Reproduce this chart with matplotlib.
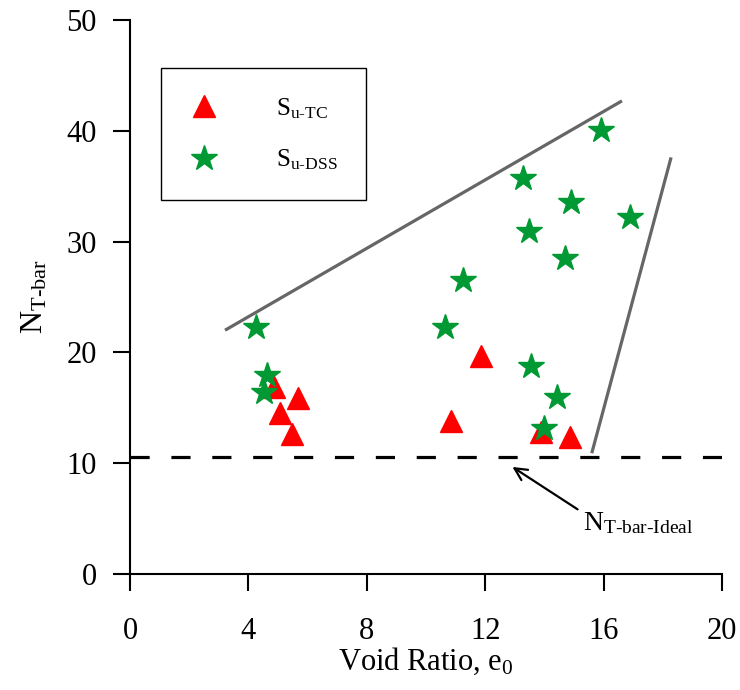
import matplotlib
matplotlib.use("Agg")
import matplotlib.pyplot as plt

plt.rcParams['font.family'] = ['Liberation Serif', 'DejaVu Serif']
plt.rcParams['mathtext.fontset'] = 'custom'
plt.rcParams['mathtext.rm'] = 'Liberation Serif'
plt.rcParams['mathtext.it'] = 'Liberation Serif:italic'

# Data
tc_e0 = [4.86, 5.68, 5.07, 5.47, 10.84, 11.86, 13.9, 14.86]
tc_nt = [16.9, 15.9, 14.5, 12.6, 13.8, 19.7, 12.8, 12.4]

dss_e0 = [4.26, 4.63, 4.53, 10.64, 11.25, 13.28, 13.48, 13.55, 14.0, 14.43, 14.7, 14.9, 15.9, 16.9]
dss_nt = [22.3, 18.0, 16.4, 22.3, 26.5, 35.7, 31.0, 18.8, 13.2, 16.0, 28.5, 33.6, 40.1, 32.2]

upper_x = [3.21, 16.62]
upper_y = [22.0, 42.7]
right_x = [15.6, 18.28]
right_y = [10.9, 37.6]

ideal_n = 10.6
arrow_head = (12.84, 9.8)
arrow_tail = (15.2, 5.7)

xticks = [0, 4, 8, 12, 16, 20]
yticks = [0, 10, 20, 30, 40, 50]

fig = plt.figure(figsize=(7.4, 6.9), dpi=100)
ax = fig.add_axes([130/740, 1-574/690, 592/740, 554/690])

ax.plot(upper_x, upper_y, color='#666666', lw=2.3, solid_capstyle='butt')
ax.plot(right_x, right_y, color='#666666', lw=2.3, solid_capstyle='butt')
ax.axhline(ideal_n, color='black', lw=2.3, dashes=(6, 6.8))

ax.plot(tc_e0, tc_nt, linestyle='none', marker='^', markersize=16.5,
        color='#FF0000', mec='#FF0000', label=r'S$_{\mathrm{u\text{-}TC}}$', zorder=3)
ax.plot(dss_e0, dss_nt, linestyle='none', marker='*', markersize=19,
        color='#009933', mec='#009933', label=r'S$_{\mathrm{u\text{-}DSS}}$', zorder=4)

ax.annotate('', xy=arrow_head, xytext=arrow_tail,
            arrowprops=dict(arrowstyle='->', color='black', lw=1.6, mutation_scale=22))
ax.text(15.3, 4.6, r'N$_{\mathrm{T\text{-}bar\text{-}Ideal}}$', fontsize=20, ha='left', va='center')

ax.set_xlim(0, 20)
ax.set_ylim(0, 50)
ax.set_xticks(xticks)
ax.set_yticks(yticks)
for s in ['top', 'right']:
    ax.spines[s].set_visible(False)
for s in ['left', 'bottom']:
    ax.spines[s].set_linewidth(1.5)
ax.tick_params(direction='out', length=12, width=1.5, labelsize=22)
ax.tick_params(axis='x', pad=19)
ax.tick_params(axis='y', pad=12)

ax.set_xlabel(r'Void Ratio, e$_0$', fontsize=22, labelpad=0)
ax.set_ylabel(r'N$_{\mathrm{T\text{-}bar}}$', fontsize=23, labelpad=12)

leg = ax.legend(loc='upper left', bbox_to_anchor=(31/592, 1-(68-20)/554), fontsize=18,
                frameon=True, fancybox=False, edgecolor='black', framealpha=1,
                borderpad=1.12, handlelength=1.2, handletextpad=2.28, labelspacing=1.08,
                borderaxespad=0, numpoints=1)
leg.get_frame().set_linewidth(1.0)

fig.savefig('out.png', dpi=100)
